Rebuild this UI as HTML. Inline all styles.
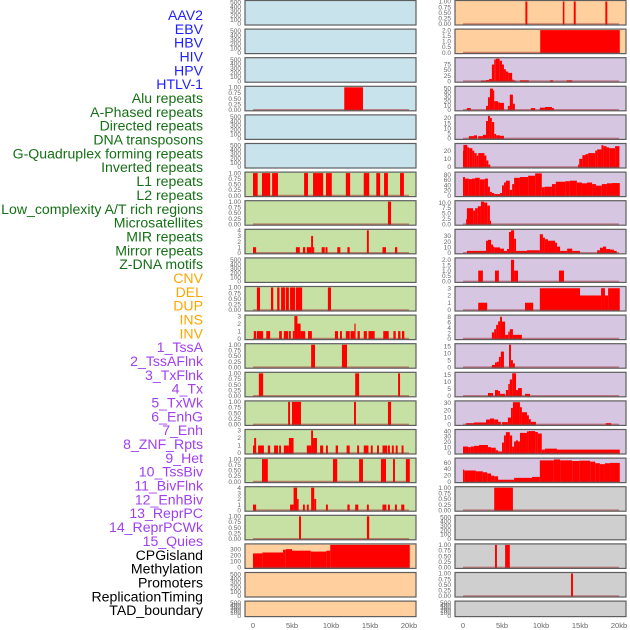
<!DOCTYPE html>
<html><head><meta charset="utf-8">
<style>
html,body{margin:0;padding:0;background:#fff;}
svg{display:block;font-family:"Liberation Sans",Arial,sans-serif;}
</style></head>
<body>
<svg id="chart" width="630" height="630" viewBox="0 0 630 630" xmlns="http://www.w3.org/2000/svg">
<g id="labels"></g>
<g id="panels"></g>
<g id="xaxes"></g>
</svg>
<script>
// ---- label data ----
const trackLabels = ["AAV2","EBV","HBV","HIV","HPV","HTLV-1","Alu repeats","A-Phased repeats","Directed repeats","DNA transposons","G-Quadruplex forming repeats","Inverted repeats","L1 repeats","L2 repeats","Low_complexity A/T rich regions","Microsatellites","MIR repeats","Mirror repeats","Z-DNA motifs","CNV","DEL","DUP","INS","INV","1_TssA","2_TssAFlnk","3_TxFlnk","4_Tx","5_TxWk","6_EnhG","7_Enh","8_ZNF_Rpts","9_Het","10_TssBiv","11_BivFlnk","12_EnhBiv","13_ReprPC","14_ReprPCWk","15_Quies","CPGisland","Methylation","Promoters","ReplicationTiming","TAD_boundary"];
const labelGroups = ["virus","virus","virus","virus","virus","virus","repeat","repeat","repeat","repeat","repeat","repeat","repeat","repeat","repeat","repeat","repeat","repeat","repeat","sv","sv","sv","sv","sv","state","state","state","state","state","state","state","state","state","state","state","state","state","state","state","other","other","other","other","other"];
const xTickLabels = ["0","5kb","10kb","15kb","20kb"];
const xTickValues = [0,5,10,15,20];

// ---- tick label sets ----
const ticksEmpty = ["0","100","200","300","400","500"];
const ticksUnit = ["0.00","0.25","0.50","0.75","1.00"];
const ticks0to4 = ["0","1","2","3","4"];
const ticks0to3 = ["0","1","2","3"];
const ticksCpg = ["0","100","200","300"];

// ---- left column series: [startKb, endKb, value] ----
const leftAlu = [[11.7,14.1,1]];
const leftL1 = [[0,0.6,1],[1.15,2.2,1],[2.45,3.2,1],[6.55,7.05,1],[7.7,9.0,1],[9.35,10.1,1],[11.9,12.45,1],[14.2,14.9,1],[15.8,16.3,1],[16.8,17.3,1],[18.85,19.35,1]];
const leftL2 = [[17.3,17.7,1]];
const leftLowComplex = [[0,0.4,1],[5.5,6.0,1],[6.4,6.7,1],[6.9,7.45,1],[7.45,7.7,3],[7.7,7.85,1],[8.8,9.2,1],[9.3,9.55,1],[10.8,11.2,1],[12.1,12.4,1],[14.6,14.85,4],[16.6,17.05,1],[18.2,18.5,1]];
const leftMicrosat = [[0.5,0.9,1],[2.3,2.6,1],[3.1,3.4,1],[3.6,4.1,1],[4.2,4.6,1],[4.75,5.4,1],[5.5,6.3,1],[9.6,10.0,1]];
const leftMIR = [[0.1,0.4,1],[0.5,1.3,1],[1.7,2.2,1],[3.35,3.7,1],[3.95,4.5,1],[4.6,4.85,1],[5.1,5.3,1],[5.3,5.7,3],[5.7,6.1,2],[6.1,6.7,1],[7.05,7.55,1],[10.5,10.9,1],[11.15,11.4,1],[11.9,12.4,1],[12.5,13.0,1],[13.0,13.1,2],[13.4,13.7,1],[14.2,14.6,1],[14.8,15.6,1],[16.7,17.4,1],[18.0,18.3,1],[18.6,18.9,1],[19.1,19.4,1]];
const leftCNV = [[7.45,7.95,1],[11.4,12.05,1]];
const leftDEL = [[0.75,1.3,1],[13.1,13.6,1],[18.6,18.85,1]];
const leftDUP = [[4.5,4.75,1],[5.0,6.15,1],[12.95,13.2,1],[17.3,17.7,1]];
const leftINS = [[0,0.4,1],[0.15,0.4,2],[0.65,1.4,1],[1.9,2.2,1],[2.7,3.2,1],[3.35,3.6,1],[3.95,4.6,1],[4.6,5.2,2],[6.9,7.45,1],[7.45,7.7,3],[7.7,8.2,2],[8.6,9.0,1],[9.35,9.6,1],[10.6,10.9,1],[12.0,12.4,1],[13.35,13.6,1],[14.2,14.8,1],[15.1,15.35,1],[15.9,16.15,1],[16.6,17.2,1],[17.3,17.55,1],[17.8,18.05,1],[18.3,18.55,1],[19.05,19.3,1]];
const leftINV = [[1.15,1.9,1],[10.25,10.8,1],[13.6,14.1,1],[16.4,17.05,1],[17.95,18.2,1],[19.6,20.1,1]];
const leftTssA = [[0,0.4,1],[4.75,5.2,1],[5.2,5.65,4],[5.65,5.85,2],[6.4,6.65,1],[6.9,7.15,1],[7.45,7.85,4],[7.85,8.1,2],[9.35,9.6,1],[12.1,12.4,1],[13.1,13.5,1],[14.6,14.85,1],[16.6,17.1,1],[17.3,17.55,1],[18.2,18.45,1],[19.0,19.4,1]];
const leftTssAFlnk = [[5.9,6.15,1],[14.6,14.9,1]];
const leftCpg = [[0,1.2,230],[1.2,3.85,245],[3.85,4.2,290],[4.2,5.0,300],[5.0,7.4,275],[7.4,9.4,260],[9.4,9.9,275],[9.9,20.1,370]];

// ---- right column series ----
const rightTxFlnk = [[8.0,8.25,1],[12.8,13.0,1],[14.2,14.45,1],[18.25,18.5,1]];
const rightTx = [[9.9,20.1,2]];
const rightTxWk = [[2.3,2.95,3],[2.95,3.35,5],[3.35,3.7,10],[3.7,4.0,74],[4.0,4.2,96],[4.2,4.7,100],[4.7,5.0,91],[5.0,5.25,74],[5.25,5.5,53],[5.5,5.8,43],[5.8,6.3,37],[6.3,6.5,7],[6.5,6.8,3],[7.3,8.45,4],[11.15,11.55,4],[13.3,14.0,4]];
const rightEnhG = [[0.5,1.0,4],[2.95,3.2,9],[3.2,3.45,29],[3.45,3.85,49],[3.85,4.0,45],[4.0,4.5,20],[4.5,4.75,17],[4.75,5.25,16],[5.75,6.0,9],[6.0,6.4,35],[6.4,6.65,14],[8.7,9.25,4],[9.85,10.5,5],[10.5,11.4,6.5],[11.4,11.65,4]];
const rightEnh = [[0.75,1.4,2.2],[1.4,1.8,3],[1.95,2.55,2.2],[2.55,2.95,3.5],[2.95,3.2,17],[3.2,3.45,22],[3.45,3.7,20],[3.7,4.0,16],[4.0,4.25,4.4],[4.25,4.75,3],[4.75,5.25,2.5]];
const rightZNF = [[0,0.05,20],[0.05,0.55,27],[0.55,0.8,24],[0.8,1.2,23],[1.2,1.45,20],[1.45,1.75,17],[1.75,1.95,14],[1.95,2.75,17],[2.75,3.0,14],[3.0,3.25,8],[3.25,3.5,3],[14.75,14.9,3],[14.9,15.3,10],[15.3,15.7,14.5],[15.7,16.05,15.7],[16.05,16.95,17],[16.95,17.2,20],[17.2,17.75,21.5],[17.75,18.0,26.7],[18.0,18.4,25.5],[18.4,18.75,24],[18.75,19.5,23],[19.5,20.05,25.5]];
const rightHet = [[0,0.25,71],[0.25,0.75,65],[0.75,1.15,63],[1.15,1.55,65],[1.55,2.15,68],[2.15,2.8,62],[2.8,3.2,65],[3.2,3.45,34],[3.45,3.7,14],[3.7,4.0,10],[4.0,4.75,6],[4.75,5.0,10],[5.0,5.25,39],[5.25,5.5,50],[5.5,6.0,57],[6.0,6.3,22],[6.3,6.55,44],[6.55,7.3,68],[7.3,8.35,71],[8.35,9.25,76],[9.25,10.1,85],[10.1,10.5,32],[10.5,11.4,34],[11.4,11.9,44],[11.9,13.1,53],[13.1,13.7,55],[13.7,14.6,57],[14.6,15.25,50],[15.25,15.9,47],[15.9,16.55,50],[16.55,17.05,44],[17.05,17.8,38],[17.8,18.45,44],[18.45,19.1,47],[19.1,20.1,48]];
const rightTssBiv = [[0.4,0.5,2.3],[0.5,1.3,7.4],[1.3,1.55,6.3],[1.55,1.9,7.4],[1.9,2.3,8.3],[2.3,2.7,10.4],[2.7,3.1,10],[3.1,3.45,8.6],[3.45,3.6,1.6]];
const rightBivFlnk = [[0.5,2.95,3.4],[2.95,3.2,21.5],[3.2,3.6,23],[3.6,3.85,14.7],[3.85,4.0,11],[4.0,4.75,9.6],[4.75,5.25,7.4],[5.25,5.65,3.4],[5.65,5.9,6.8],[5.9,6.15,37],[6.15,6.55,40],[6.55,6.8,25],[6.8,8.2,3.4],[8.2,9.85,4.5],[9.85,10.25,33],[10.25,10.5,27],[10.5,10.9,24],[10.9,11.8,21.5],[11.8,12.05,18],[12.05,12.45,11],[12.45,13.35,3.4],[13.35,14.0,7.4],[14.0,15.0,3.4],[17.2,17.55,4.5],[17.55,17.95,9],[17.95,18.35,11],[18.35,18.85,6.8],[18.85,19.35,5.7],[19.35,19.7,3.4]];
const rightEnhBiv = [[1.95,2.55,1],[4.1,4.6,1],[6.15,6.55,2],[6.55,7.05,1],[12.3,12.95,1]];
const rightReprPC = [[1.95,3.1,1],[7.95,9.0,1],[9.85,15.0,3],[15.0,17.7,2],[17.7,18.2,3],[18.2,18.6,2],[18.6,20.1,3]];
const rightReprPCWk = [[3.7,4.0,2.3],[4.0,4.25,3.5],[4.25,4.5,5.1],[4.5,4.75,6.4],[4.75,5.0,8.1],[5.0,5.4,6.3],[5.4,5.8,1.4],[5.8,6.0,2.6],[6.0,6.4,3.5],[6.4,7.55,1.4]];
const rightQuies = [[3.7,4.1,1.6],[4.1,4.35,3.4],[4.35,4.6,3.9],[4.6,4.85,7.3],[4.85,5.25,11.1],[5.9,6.15,16],[6.15,6.4,5],[6.4,6.65,2.7]];
const rightCpgIsland = [[3.2,3.85,2],[4.1,4.5,4.1],[4.5,4.75,3.4],[4.75,5.4,1.4],[5.5,5.8,4.1],[5.8,6.0,8.4],[6.0,6.3,11.6],[6.3,6.8,16],[6.8,7.05,4.1],[7.05,7.55,5.5],[7.95,8.6,1.4]];
const rightMethylation = [[0.4,1.4,1.8],[1.4,2.95,2.7],[2.95,3.45,6.8],[3.45,4.0,8.2],[4.0,4.5,6.8],[4.5,4.85,3.6],[5.0,5.75,3.2],[5.75,6.15,9.5],[6.15,6.4,23],[6.4,7.3,31],[7.3,7.55,24],[7.55,8.2,17],[8.2,8.45,12.7],[8.45,8.7,7.3],[8.7,9.35,3.6],[18.3,19.0,1.8]];
const rightPromoters = [[0,0.65,11.8],[0.65,1.0,10.7],[1.0,1.4,11.8],[1.4,2.05,13],[2.05,3.2,14.6],[3.2,3.6,10.7],[3.6,4.2,9.6],[4.2,4.5,5],[4.5,5.0,2.8],[5.0,5.25,19],[5.25,5.5,32],[5.5,6.0,38],[6.0,6.3,32],[6.3,6.55,11.8],[6.55,6.8,21],[6.8,7.05,23],[7.05,7.3,21],[7.3,8.2,36.6],[8.2,8.45,39.4],[8.45,9.25,40],[9.25,9.6,38.3],[9.6,10.1,35.5],[10.1,10.5,6.2],[10.5,12.05,7.9],[12.05,20.1,6.2]];
const rightRepTiming = [[0,0.15,38],[0.15,1.65,35],[1.65,2.55,32.5],[2.55,3.1,29.5],[3.1,3.6,25.6],[3.6,4.0,18.7],[4.0,4.5,16.7],[4.5,6.55,5.9],[6.55,8.85,11.8],[8.85,9.85,14.8],[9.85,11.65,67],[11.65,12.45,70],[12.45,14.0,67],[14.0,14.9,65],[14.9,16.3,66],[16.3,16.95,63],[16.95,17.55,58],[17.55,18.2,55],[18.2,18.85,58],[18.85,20.1,59]];
const rightTad1 = [[4.0,6.4,1]];
const rightTad2 = [[4.1,4.35,1],[5.4,6.0,1]];
const rightTad3 = [[13.85,14.1,1]];

// ---- panel definitions: [series, yMax, ticks, background] ----
const BLUE="#c8e3ec", GREEN="#c7e1a5", PEACH="#ffd09e", PURPLE="#d6c6e2", GRAY="#cfcfcf";
const leftPanels = [
 [null,520,ticksEmpty,BLUE],[null,520,ticksEmpty,BLUE],[null,520,ticksEmpty,BLUE],
 [leftAlu,1,ticksUnit,BLUE],[null,520,ticksEmpty,BLUE],[null,520,ticksEmpty,BLUE],
 [leftL1,1,ticksUnit,GREEN],[leftL2,1,ticksUnit,GREEN],[leftLowComplex,4,ticks0to4,GREEN],
 [null,520,ticksEmpty,GREEN],[leftMicrosat,1,ticksUnit,GREEN],[leftMIR,3,ticks0to3,GREEN],
 [leftCNV,1,ticksUnit,GREEN],[leftDEL,1,ticksUnit,GREEN],[leftDUP,1,ticksUnit,GREEN],
 [leftINS,3,ticks0to3,GREEN],[leftINV,1,ticksUnit,GREEN],[leftTssA,4,ticks0to4,GREEN],
 [leftTssAFlnk,1,ticksUnit,GREEN],[leftCpg,370,ticksCpg,PEACH],
 [null,520,ticksEmpty,PEACH],[null,520,ticksEmpty,PEACH]
];
const rightPanels = [
 [rightTxFlnk,1,ticksUnit,PEACH],[rightTx,2,["0.0","0.5","1.0","1.5","2.0"],PEACH],
 [rightTxWk,100,["0","25","50","75"],PURPLE],[rightEnhG,52,["0","10","20","30","40","50"],PURPLE],
 [rightEnh,22,["0","5","10","15","20"],PURPLE],[rightZNF,27.5,["0","10","20"],PURPLE],
 [rightHet,86,["0","20","40","60","80"],PURPLE],[rightTssBiv,10.4,["0.0","2.5","5.0","7.5","10.0"],PURPLE],
 [rightBivFlnk,40,["0","10","20","30"],PURPLE],[rightEnhBiv,2.08,["0.0","0.5","1.0","1.5","2.0"],PURPLE],
 [rightReprPC,3.1,ticks0to3,PURPLE],[rightReprPCWk,8.35,["0","2","4","6","8"],PURPLE],
 [rightQuies,16,["0","5","10","15"],PURPLE],[rightCpgIsland,16,["0","5","10","15"],PURPLE],
 [rightMethylation,31.4,["0","10","20","30"],PURPLE],[rightPromoters,41,["0","10","20","30","40"],PURPLE],
 [rightRepTiming,71,["0","20","40","60"],PURPLE],[rightTad1,1,ticksUnit,GRAY],
 [null,520,ticksEmpty,GRAY],[rightTad2,1,ticksUnit,GRAY],[rightTad3,1,ticksUnit,GRAY],
 [null,520,ticksEmpty,GRAY]
];

const NS="http://www.w3.org/2000/svg";
function mk(tag, attrs, parent){const e=document.createElementNS(NS,tag);for(const k in attrs)e.setAttribute(k,attrs[k]);parent.appendChild(e);return e;}

// labels
const groupColors={virus:"#1f1fff",repeat:"#157015",sv:"#ffa500",state:"#a040ee",other:"#000000"};
const labG=document.getElementById("labels");
trackLabels.forEach((t,i)=>{
  const e=mk("text",{x:203,y:(20+i*13.84).toFixed(2),"text-anchor":"end","font-size":"14.1",fill:groupColors[labelGroups[i]]},labG);
  
  
  e.textContent=t;
});

// panels
const panG=document.getElementById("panels");
const PW=171, KB=7.8;
function drawPanel(def,row,x0){
  const [series,ymax,ticks,bg]=def;
  const top=row*28.6+0.5;
  const last=(row===21);
  const h=last?15.5:24.5;
  const y0=last?top+14.5:top+23.5;
  const span=last?13.5:22.5;
  const ys=v=>y0-Math.min(v,ymax)/ymax*span;
  const xs=kb=>x0+8+kb*KB;
  const g=mk("g",{},panG);
  
  
  mk("rect",{x:x0,y:top,width:PW,height:h,fill:bg},g);
  if(series){
    series.forEach(s=>{
      const r=mk("rect",{x:xs(s[0]).toFixed(2),y:ys(s[2]).toFixed(2),width:Math.max(1.2,(s[1]-s[0])*KB).toFixed(2),height:(y0-ys(s[2])+0.5).toFixed(2),fill:"#ff0000"},g);
      
      
    });
    mk("line",{x1:xs(0),x2:xs(20),y1:y0,y2:y0,stroke:"rgba(170,50,50,0.55)","stroke-width":1.6},g);
  }
  mk("rect",{x:x0,y:top,width:PW,height:h,fill:"none",stroke:"#5e5e5e","stroke-width":1.2},g);
  ticks.forEach((t,i)=>{
    const v=parseFloat(t);
    const y=ys(v);
    const tx=mk("text",{x:x0-4,y:(y+2.2).toFixed(2),"text-anchor":"end","font-size":"6.5",fill:"#666"},g);
    
    
    tx.textContent=t;
  });
}
leftPanels.forEach((d,i)=>drawPanel(d,i,245));
rightPanels.forEach((d,i)=>drawPanel(d,i,455));

// x axes
const xg=document.getElementById("xaxes");
[245,455].forEach(x0=>{
  xTickValues.forEach((v,i)=>{
    const t=mk("text",{x:(x0+8+v*KB).toFixed(2),y:628,"text-anchor":"middle","font-size":"7.5",fill:"#666"},xg);
    
    
    t.textContent=xTickLabels[i];
  });
});
</script>
</body></html>
